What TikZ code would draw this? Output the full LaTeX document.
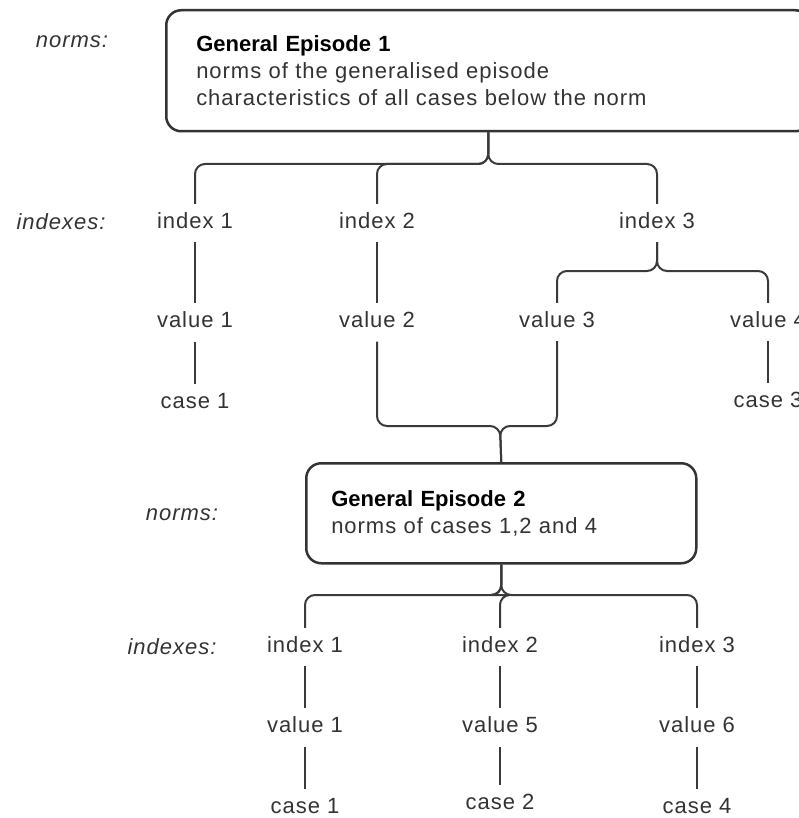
\documentclass[tikz,border=0pt]{standalone}
\usepackage{fontspec}
\setmainfont{Liberation Sans}[LetterSpace=4.5, BoldFeatures={LetterSpace=0}]
\usetikzlibrary{positioning}

\definecolor{inkgray}{HTML}{333333}
\definecolor{linegray}{HTML}{3A3A3A}

\tikzset{
   episode/.style={draw=inkgray, line width=2.5pt, rounded corners=15pt,
      anchor=north west, align=left, text=inkgray},
   leaf/.style={text=inkgray, text height=16pt, text depth=5pt,
      inner ysep=8.5pt, inner xsep=2pt},
   level/.style={text=inkgray, font=\fontsize{22}{27}\selectfont\itshape},
   link/.style={draw=linegray, line width=2pt, rounded corners=10pt},
}

\begin{document}
\begin{tikzpicture}[x=1pt, y=-1pt, font=\fontsize{22}{27}\selectfont]
   \useasboundingbox (0,0) rectangle (799,818);

   % general episodes
   \node[episode, text width=584pt, inner xsep=30pt, minimum height=121pt]
      (ge1) at (165,9) {\textcolor{black}{\textbf{General Episode 1}}\\
      norms of the generalised episode\\
      characteristics of all cases below the norm};
   \node[episode, text width=340pt, inner xsep=25pt, minimum height=100pt]
      (ge2) at (305,462) {\textcolor{black}{\textbf{General Episode 2}}\\
      norms of cases 1,2 and 4};

   % row labels
   \node[level] (lnorm1) at (72,42)  {norms:};
   \node[level] (lidx1)  at (61,222) {indexes:};
   \node[level] (lnorm2) at (182,515) {norms:};
   \node[level] (lidx2)  at (172,647) {indexes:};

   % first episode: indexes, values, cases
   \node[leaf] (a-i1) at (195,223) {index 1};
   \node[leaf] (a-i2) at (377,223) {index 2};
   \node[leaf] (a-i3) at (657,223) {index 3};

   \node[leaf, below=61pt of a-i1] (a-v1) {value 1};
   \node[leaf, below=61pt of a-i2] (a-v2) {value 2};
   \node[leaf] (a-v3) at (557,322) {value 3};
   \node[leaf] (a-v4) at (768,322) {value 4};

   \node[leaf, below=42pt of a-v1] (a-c1) {case 1};
   \node[leaf, below=42pt of a-v4] (a-c3) {case 3};

   % second episode: indexes, values, cases
   \node[leaf] (b-i1) at (305,647) {index 1};
   \node[leaf] (b-i2) at (500,647) {index 2};
   \node[leaf] (b-i3) at (697,647) {index 3};

   \node[leaf, below=42pt of b-i1] (b-v1) {value 1};
   \node[leaf, below=42pt of b-i2] (b-v5) {value 5};
   \node[leaf, below=42pt of b-i3] (b-v6) {value 6};

   \node[leaf, below=42pt of b-v1] (b-c1) {case 1};
   \node[leaf, below=38pt of b-v5] (b-c2) {case 2};
   \node[leaf, below=42pt of b-v6] (b-c4) {case 4};

   % braces
   \coordinate (bus1) at (487,164);
   \coordinate (bus2) at (657,271);
   \coordinate (bus3) at (500,426);
   \coordinate (bus4) at (500,595);

   \foreach \n in {a-i1,a-i2,a-i3}
      \draw[link] (ge1.south) |- (\n |- bus1) -- (\n.north);
   \foreach \n in {a-v3,a-v4}
      \draw[link] (a-i3.south) |- (\n |- bus2) -- (\n.north);
   \foreach \n in {a-v2,a-v3}
      \draw[link] (\n.south) |- (bus3) -- (ge2.north);
   \foreach \n in {b-i1,b-i2,b-i3}
      \draw[link] (ge2.south) |- (\n |- bus4) -- (\n.north);

   % straight links
   \draw[link] (a-i1) -- (a-v1);
   \draw[link] (a-v1) -- (a-c1);
   \draw[link] (a-i2) -- (a-v2);
   \draw[link] (a-v4) -- (a-c3);
   \draw[link] (b-i1) -- (b-v1);
   \draw[link] (b-v1) -- (b-c1);
   \draw[link] (b-i2) -- (b-v5);
   \draw[link] (b-v5) -- (b-c2);
   \draw[link] (b-i3) -- (b-v6);
   \draw[link] (b-v6) -- (b-c4);
\end{tikzpicture}
\end{document}
